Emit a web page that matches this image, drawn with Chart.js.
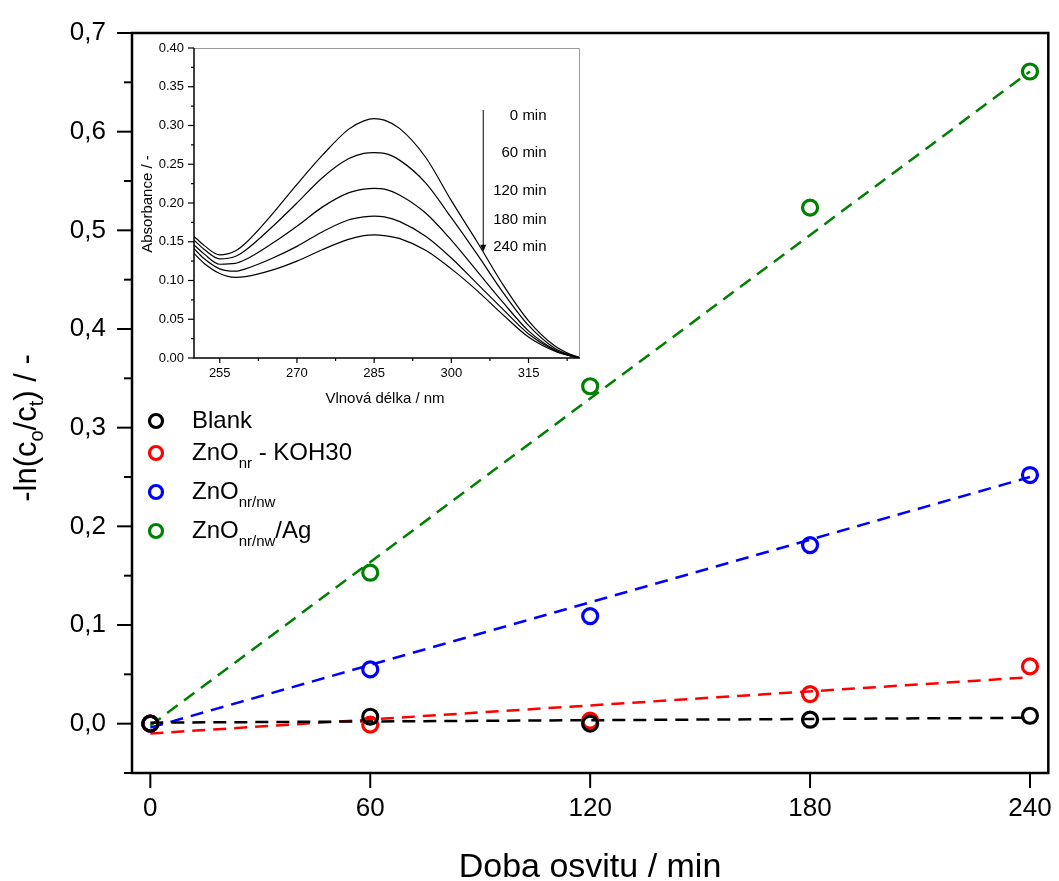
<!DOCTYPE html>
<html>
<head>
<meta charset="utf-8">
<script src="https://cdn.jsdelivr.net/npm/chart.js@4.4.1/dist/chart.umd.min.js"></script>
<style>
  html, body { margin: 0; padding: 0; background: #ffffff; }
  #wrap { position: relative; width: 1059px; height: 881px; }
  #main { position: absolute; left: 0; top: 0; }
  #inset { position: absolute; left: 130px; top: 30px; }
</style>
</head>
<body>
<div id="wrap">
  <canvas id="main" width="1059" height="881"></canvas>
  <canvas id="inset" width="460" height="390"></canvas>
</div>
<script>
// ---------- main chart data ----------
const times = [0, 60, 120, 180, 240];
const blank = [0.000, 0.007, 0.000, 0.004, 0.008];
const znoNr = [0.000, -0.001, 0.003, 0.030, 0.058];
const znoNrNw = [0.000, 0.055, 0.109, 0.181, 0.252];
const znoNrNwAg = [0.000, 0.153, 0.342, 0.523, 0.661];

// linear fit end points (at 0 and 240 min)
const fitTimes = [0, 240];
const blankFit = [0.001, 0.006];
const znoNrFit = [-0.010, 0.047];
const znoNrNwFit = [-0.004, 0.250];
const znoNrNwAgFit = [-0.002, 0.661];

const xTickValues = [0, 60, 120, 180, 240];
const xTickLabels = ['0', '60', '120', '180', '240'];
const yTickValues = [0.0, 0.1, 0.2, 0.3, 0.4, 0.5, 0.6, 0.7];
const yTickLabels = ['0,0', '0,1', '0,2', '0,3', '0,4', '0,5', '0,6', '0,7'];
const yMinorValues = [-0.05, 0.05, 0.15, 0.25, 0.35, 0.45, 0.55, 0.65];

// ---------- inset data ----------
const wavelengths = [250,252,255,258,260,265,270,275,280,283,285,287,290,295,300,305,310,315,320,323,325];
const abs0 = [0.157,0.145,0.133,0.138,0.148,0.184,0.224,0.262,0.295,0.306,0.309,0.307,0.296,0.259,0.203,0.150,0.095,0.048,0.016,0.005,0.001];
const abs60 = [0.152,0.140,0.128,0.131,0.139,0.168,0.200,0.233,0.257,0.264,0.265,0.264,0.255,0.226,0.181,0.134,0.085,0.042,0.013,0.004,0.000];
const abs120 = [0.146,0.134,0.121,0.122,0.127,0.147,0.170,0.195,0.213,0.218,0.219,0.218,0.210,0.187,0.152,0.112,0.072,0.035,0.011,0.003,0.000];
const abs180 = [0.141,0.128,0.115,0.112,0.115,0.128,0.144,0.163,0.178,0.182,0.183,0.182,0.176,0.157,0.129,0.096,0.063,0.031,0.010,0.003,0.000];
const abs240 = [0.135,0.122,0.109,0.104,0.105,0.113,0.125,0.140,0.153,0.158,0.159,0.158,0.154,0.139,0.115,0.087,0.056,0.027,0.009,0.003,0.000];
const insetXTicks = [255, 270, 285, 300, 315];
const insetXMinor = [262.5, 277.5, 292.5, 307.5, 322.5];
const insetYTicks = [0.00,0.05,0.10,0.15,0.20,0.25,0.30,0.35,0.40];
const insetYMinor = [0.025,0.075,0.125,0.175,0.225,0.275,0.325,0.375];
const timeLabels = ['0 min', '60 min', '120 min', '180 min', '240 min'];
const timeLabelY = [0.312, 0.265, 0.216, 0.178, 0.143];

const FONT = '"Liberation Sans", Arial, sans-serif';
const colors = { black: '#000000', red: '#ff0000', blue: '#0000ff', green: '#008000' };

function pts(xs, ys) { return xs.map((x, i) => ({ x: x, y: ys[i] })); }

function markerSet(label, ys, color, order) {
  return {
    label: label, data: pts(times, ys), showLine: false,
    pointStyle: 'circle', pointRadius: 7.5, pointHoverRadius: 7.5,
    pointBorderWidth: 3.2, borderColor: color, backgroundColor: 'rgba(0,0,0,0)',
    pointBackgroundColor: 'rgba(0,0,0,0)', order: order
  };
}
function fitSet(ys, color, order) {
  return {
    label: '', data: pts(fitTimes, ys), showLine: true, pointRadius: 0,
    borderColor: color, borderWidth: 2.5, borderDash: [13, 8], fill: false, order: order
  };
}

function drawRich(ctx, parts, x, y, bigFont, smallFont, subOffset) {
  let cx = x;
  parts.forEach(p => {
    ctx.font = p.s ? smallFont : bigFont;
    ctx.fillText(p.t, cx, y + (p.s ? subOffset : 0));
    cx += ctx.measureText(p.t).width;
  });
  return cx - x;
}
function measureRich(ctx, parts, bigFont, smallFont) {
  let w = 0;
  parts.forEach(p => { ctx.font = p.s ? smallFont : bigFont; w += ctx.measureText(p.t).width; });
  return w;
}

const mainPlugin = {
  id: 'mainDecor',
  afterDatasetsDraw(chart) {
    const ctx = chart.ctx, xs = chart.scales.x, ys = chart.scales.y, a = chart.chartArea;
    ctx.save();
    ctx.strokeStyle = '#000'; ctx.fillStyle = '#000';
    ctx.lineWidth = 2.5;
    ctx.strokeRect(a.left, a.top, a.right - a.left, a.bottom - a.top);
    // y ticks
    ctx.lineWidth = 2;
    yTickValues.forEach(v => {
      const py = ys.getPixelForValue(v);
      ctx.beginPath(); ctx.moveTo(a.left - 15, py); ctx.lineTo(a.left, py); ctx.stroke();
    });
    yMinorValues.forEach(v => {
      const py = ys.getPixelForValue(v);
      ctx.beginPath(); ctx.moveTo(a.left - 8, py); ctx.lineTo(a.left, py); ctx.stroke();
    });
    // x ticks
    xTickValues.forEach(v => {
      const px = xs.getPixelForValue(v);
      ctx.beginPath(); ctx.moveTo(px, a.bottom); ctx.lineTo(px, a.bottom + 15); ctx.stroke();
    });
    // tick labels
    ctx.font = '26px ' + FONT;
    ctx.textAlign = 'right'; ctx.textBaseline = 'middle';
    yTickValues.forEach((v, i) => ctx.fillText(yTickLabels[i], 106, ys.getPixelForValue(v)));
    ctx.textAlign = 'center';
    xTickValues.forEach((v, i) => ctx.fillText(xTickLabels[i], xs.getPixelForValue(v), 809));
    // x title
    ctx.font = '34px ' + FONT;
    ctx.textBaseline = 'alphabetic';
    ctx.fillText('Doba osvitu / min', 590, 877);
    // y title with subscripts
    const big = '31px ' + FONT, small = '20px ' + FONT;
    const parts = [{t:'-ln(c',s:0},{t:'o',s:1},{t:'/c',s:0},{t:'t',s:1},{t:') / -',s:0}];
    const w = measureRich(ctx, parts, big, small);
    ctx.save();
    ctx.translate(36, 428);
    ctx.rotate(-Math.PI / 2);
    ctx.textAlign = 'left';
    drawRich(ctx, parts, -w / 2, 0, big, small, 7);
    ctx.restore();
    // legend
    const legend = [
      { c: colors.black, parts: [{t:'Blank',s:0}], y: 421 },
      { c: colors.red, parts: [{t:'ZnO',s:0},{t:'nr',s:1},{t:' - KOH30',s:0}], y: 453 },
      { c: colors.blue, parts: [{t:'ZnO',s:0},{t:'nr/nw',s:1}], y: 492 },
      { c: colors.green, parts: [{t:'ZnO',s:0},{t:'nr/nw',s:1},{t:'/Ag',s:0}], y: 531 }
    ];
    legend.forEach(item => {
      ctx.strokeStyle = item.c; ctx.lineWidth = 3.2;
      ctx.beginPath(); ctx.arc(156, item.y, 6.5, 0, Math.PI * 2); ctx.stroke();
      ctx.fillStyle = '#000';
      ctx.textAlign = 'left'; ctx.textBaseline = 'middle';
      drawRich(ctx, item.parts, 192, item.y, '24px ' + FONT, '15px ' + FONT, 11);
    });
    ctx.restore();
  }
};

new Chart(document.getElementById('main'), {
  type: 'scatter',
  data: {
    datasets: [
      markerSet('Blank', blank, colors.black, 1),
      markerSet('ZnO nr - KOH30', znoNr, colors.red, 2),
      markerSet('ZnO nr/nw', znoNrNw, colors.blue, 3),
      markerSet('ZnO nr/nw/Ag', znoNrNwAg, colors.green, 4),
      fitSet(blankFit, colors.black, 5),
      fitSet(znoNrFit, colors.red, 6),
      fitSet(znoNrNwFit, colors.blue, 7),
      fitSet(znoNrNwAgFit, colors.green, 8)
    ]
  },
  options: {
    responsive: false, animation: false, devicePixelRatio: 1,
    layout: { padding: { left: 132, right: 8, top: 33, bottom: 108 } },
    plugins: { legend: { display: false }, tooltip: { enabled: false } },
    scales: {
      x: { type: 'linear', min: -5, max: 245, display: false },
      y: { type: 'linear', min: -0.05, max: 0.7, display: false }
    }
  },
  plugins: [mainPlugin]
});

// ---------- inset ----------
const insetPlugin = {
  id: 'insetDecor',
  afterDatasetsDraw(chart) {
    const ctx = chart.ctx, xs = chart.scales.x, ys = chart.scales.y, a = chart.chartArea;
    ctx.save();
    // top/right gray frame
    ctx.strokeStyle = '#9a9a9a'; ctx.lineWidth = 1;
    ctx.beginPath(); ctx.moveTo(a.left, a.top + 0.5); ctx.lineTo(a.right - 0.5, a.top + 0.5); ctx.lineTo(a.right - 0.5, a.bottom); ctx.stroke();
    // left/bottom black axes
    ctx.strokeStyle = '#000'; ctx.lineWidth = 1.5;
    ctx.beginPath(); ctx.moveTo(a.left, a.top); ctx.lineTo(a.left, a.bottom); ctx.lineTo(a.right, a.bottom); ctx.stroke();
    ctx.lineWidth = 1.2;
    insetYTicks.forEach(v => { const py = ys.getPixelForValue(v); ctx.beginPath(); ctx.moveTo(a.left - 6, py); ctx.lineTo(a.left, py); ctx.stroke(); });
    insetYMinor.forEach(v => { const py = ys.getPixelForValue(v); ctx.beginPath(); ctx.moveTo(a.left - 3, py); ctx.lineTo(a.left, py); ctx.stroke(); });
    insetXTicks.forEach(v => { const px = xs.getPixelForValue(v); ctx.beginPath(); ctx.moveTo(px, a.bottom); ctx.lineTo(px, a.bottom + 5); ctx.stroke(); });
    insetXMinor.forEach(v => { const px = xs.getPixelForValue(v); ctx.beginPath(); ctx.moveTo(px, a.bottom); ctx.lineTo(px, a.bottom + 3); ctx.stroke(); });
    ctx.fillStyle = '#000';
    ctx.font = '13px ' + FONT;
    ctx.textAlign = 'right'; ctx.textBaseline = 'middle';
    insetYTicks.forEach(v => ctx.fillText(v.toFixed(2), a.left - 10, ys.getPixelForValue(v)));
    ctx.textAlign = 'center';
    insetXTicks.forEach(v => ctx.fillText(String(v), xs.getPixelForValue(v), a.bottom + 15));
    ctx.font = '15px ' + FONT;
    ctx.fillText('Vlnová délka / nm', (a.left + a.right) / 2 - 2, a.bottom + 41);
    ctx.save();
    ctx.translate(18, (a.top + a.bottom) / 2 + 1);
    ctx.rotate(-Math.PI / 2);
    ctx.fillText('Absorbance / -', 0, 0);
    ctx.restore();
    // arrow
    const ax = xs.getPixelForValue(306.2);
    const ay1 = ys.getPixelForValue(0.320), ay2 = ys.getPixelForValue(0.137);
    ctx.lineWidth = 1;
    ctx.beginPath(); ctx.moveTo(ax, ay1); ctx.lineTo(ax, ay2 - 5); ctx.stroke();
    ctx.beginPath(); ctx.moveTo(ax - 3, ay2 - 7); ctx.lineTo(ax + 3, ay2 - 7); ctx.lineTo(ax, ay2); ctx.closePath(); ctx.fill();
    ctx.font = '15px ' + FONT;
    ctx.textAlign = 'right';
    const lx = xs.getPixelForValue(318.5);
    timeLabels.forEach((t, i) => ctx.fillText(t, lx, ys.getPixelForValue(timeLabelY[i])));
    ctx.restore();
  }
};

const curves = [abs0, abs60, abs120, abs180, abs240];
new Chart(document.getElementById('inset'), {
  type: 'scatter',
  data: {
    datasets: curves.map((c, i) => ({
      label: timeLabels[i], data: pts(wavelengths, c), showLine: true, pointRadius: 0,
      borderColor: '#000', borderWidth: 1.2, cubicInterpolationMode: 'monotone', fill: false
    }))
  },
  options: {
    responsive: false, animation: false, devicePixelRatio: 1,
    layout: { padding: { left: 64, right: 10, top: 18, bottom: 62 } },
    plugins: { legend: { display: false }, tooltip: { enabled: false } },
    scales: {
      x: { type: 'linear', min: 250, max: 325, display: false },
      y: { type: 'linear', min: 0, max: 0.4, display: false }
    }
  },
  plugins: [insetPlugin]
});
</script>
</body>
</html>
